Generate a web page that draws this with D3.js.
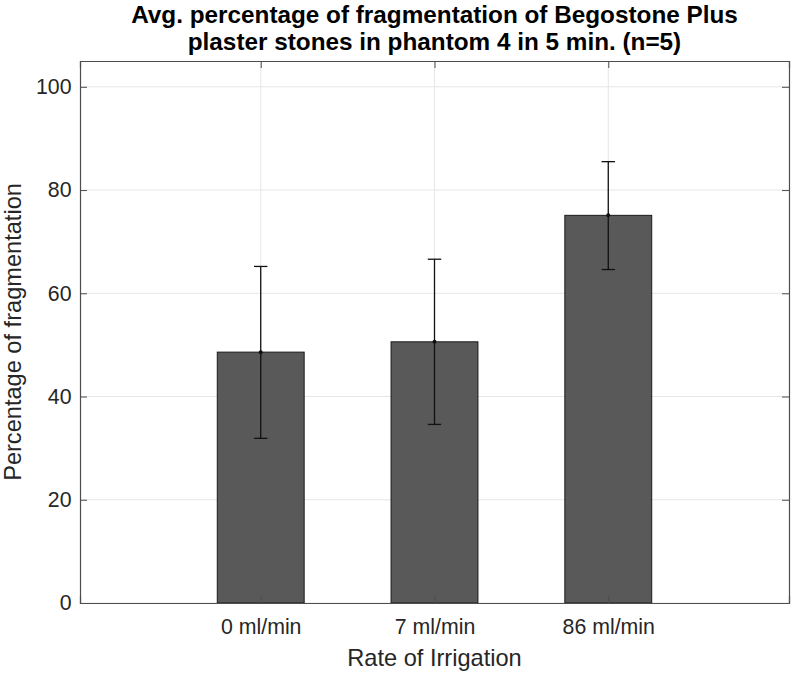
<!DOCTYPE html>
<meta charset="utf-8">
<style>
body {
	margin: 0;
	background: #fff;
	font-family: "Liberation Sans", Arial, sans-serif;
}
.grid line {
	stroke: #e6e6e6;
}
.axis path,
.axis line {
	stroke: #4d4d4d;
}
.axis text {
	font-size: 21.3px;
	fill: #262626;
}
</style>
<body>
<svg></svg>
<script src="https://d3js.org/d3.v7.min.js"></script>
<script>

var categories = ["0 ml/min", "7 ml/min", "86 ml/min"];
var means = [48.6, 50.6, 75.1];
var upper = [65.2, 66.6, 85.5];
var lower = [31.9, 34.6, 64.6];
var yTicks = [0, 20, 40, 60, 80, 100];
var titleLines = ["Avg. percentage of fragmentation of Begostone Plus",
	"plaster stones in phantom 4 in 5 min. (n=5)"];

var width = 792, height = 674;
var margin = {top: 61, right: 3, bottom: 71, left: 80};

var svg = d3.select("svg")
	.attr("width", width)
	.attr("height", height);

var xscale = d3.scaleLinear()
	.domain([-0.04, 4.04])
	.range([margin.left, width - margin.right]);

var yscale = d3.scaleLinear()
	.domain([0, 105])
	.range([height - margin.bottom, margin.top]);

var pos = categories.map(function(d, i) { return i + 1; });

// grid
svg.append("g")
	.attr("class", "grid")
	.selectAll("line.h")
	.data(yTicks)
	.enter().append("line")
	.attr("x1", xscale.range()[0])
	.attr("x2", xscale.range()[1])
	.attr("y1", function(d) { return yscale(d); })
	.attr("y2", function(d) { return yscale(d); });

svg.select(".grid")
	.selectAll("line.v")
	.data(pos)
	.enter().append("line")
	.attr("x1", function(d) { return xscale(d); })
	.attr("x2", function(d) { return xscale(d); })
	.attr("y1", yscale.range()[0])
	.attr("y2", yscale.range()[1]);

// bars
var barW = xscale(0.5) - xscale(0);
svg.append("g")
	.selectAll("rect")
	.data(means)
	.enter().append("rect")
	.attr("x", function(d, i) { return xscale(pos[i]) - barW / 2; })
	.attr("y", function(d) { return yscale(d); })
	.attr("width", barW)
	.attr("height", function(d) { return yscale(0) - yscale(d); })
	.attr("fill", "#595959")
	.attr("stroke", "#1a1a1a")
	.attr("stroke-width", 1);

// error bars
var eb = svg.append("g")
	.attr("stroke", "#111")
	.attr("stroke-width", 1.3);
means.forEach(function(m, i) {
	var cx = xscale(pos[i]);
	eb.append("line")
		.attr("x1", cx).attr("x2", cx)
		.attr("y1", yscale(lower[i])).attr("y2", yscale(upper[i]));
	[lower[i], upper[i]].forEach(function(v) {
		eb.append("line")
			.attr("x1", cx - 6.7).attr("x2", cx + 6.7)
			.attr("y1", yscale(v)).attr("y2", yscale(v));
	});
	svg.append("circle")
		.attr("cx", cx)
		.attr("cy", yscale(m))
		.attr("r", 2)
		.attr("fill", "#111");
});

// axes
var tickLen = 7;
svg.append("g")
	.attr("class", "axis")
	.attr("transform", "translate(0," + yscale(0) + ")")
	.call(d3.axisBottom(xscale)
		.tickValues(pos)
		.tickSize(-tickLen)
		.tickPadding(0)
		.tickFormat(function(d) { return categories[d - 1]; }))
	.call(function(g) { g.selectAll("text").attr("dy", null).attr("y", 30.5); });

svg.append("g")
	.attr("class", "axis")
	.attr("transform", "translate(0," + yscale(105) + ")")
	.call(d3.axisTop(xscale)
		.tickValues(pos)
		.tickSize(-tickLen)
		.tickFormat(""));

svg.append("g")
	.attr("class", "axis")
	.attr("transform", "translate(" + xscale.range()[0] + ",0)")
	.call(d3.axisLeft(yscale)
		.tickValues(yTicks)
		.tickSize(-tickLen)
		.tickPadding(0))
	.call(function(g) { g.selectAll("text").attr("x", -8.5); });

svg.append("g")
	.attr("class", "axis")
	.attr("transform", "translate(" + xscale.range()[1] + ",0)")
	.call(d3.axisRight(yscale)
		.tickValues(yTicks)
		.tickSize(-tickLen)
		.tickFormat(""));

svg.selectAll(".axis path").attr("stroke-width", 1.2);

// labels
svg.append("text")
	.attr("x", (xscale.range()[0] + xscale.range()[1]) / 2)
	.attr("y", 666)
	.attr("text-anchor", "middle")
	.attr("font-size", "23.6px")
	.attr("fill", "#262626")
	.text("Rate of Irrigation");

svg.append("text")
	.attr("transform", "translate(21," + (yscale(52.5)) + ") rotate(-90)")
	.attr("text-anchor", "middle")
	.attr("font-size", "23.6px")
	.attr("fill", "#262626")
	.text("Percentage of fragmentation");

svg.selectAll("text.title")
	.data(titleLines)
	.enter().append("text")
	.attr("class", "title")
	.attr("x", (xscale.range()[0] + xscale.range()[1]) / 2)
	.attr("y", function(d, i) { return 23 + i * 27; })
	.attr("text-anchor", "middle")
	.attr("font-size", "24.3px")
	.attr("font-weight", "bold")
	.attr("fill", "#000")
	.text(function(d) { return d; });

</script>
</body>
